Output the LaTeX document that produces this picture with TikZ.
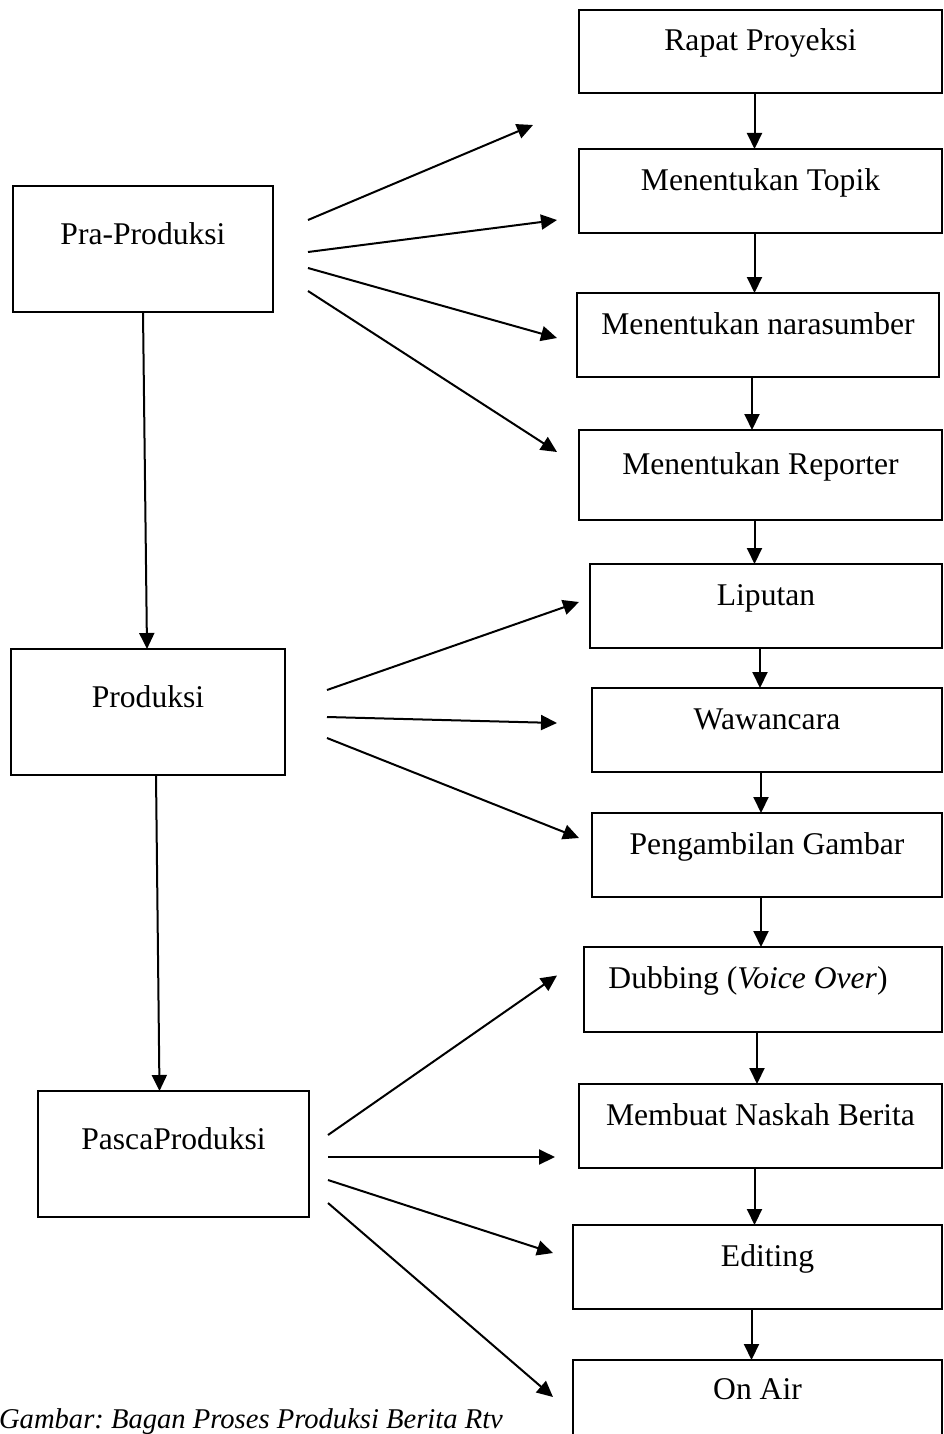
\documentclass[tikz,border=0pt]{standalone}
\usepackage{fontspec}
\setmainfont{Liberation Serif}
\usetikzlibrary{arrows.meta,calc}

\begin{document}
\frenchspacing
\begin{tikzpicture}[x=0.5pt,y=-0.5pt,
  box/.style={draw,line width=1pt,inner sep=0pt,outer sep=0pt,
    font=\fontsize{15.8pt}{19pt}\selectfont,text height=10.5pt},
  rbox/.style={box,text depth=11.5pt},
  lbox/.style={box,text depth=15pt,minimum height=63pt},
  arr/.style={line width=1pt,-{Triangle[length=8pt,width=7.5pt]}}]
\clip (0,0) rectangle (943,1434);

% tahapan
\node[lbox,minimum width=130pt] (pra) at (143,249) {Pra-Produksi};
\node[lbox,minimum width=137pt] (prod) at (148,712) {Produksi};
\node[lbox,minimum width=135.5pt] (pasca) at (173.5,1154) {PascaProduksi};

% kegiatan
\node[rbox,minimum width=181.5pt,minimum height=41.5pt] (rapat) at (760.5,51.5) {Rapat Proyeksi};
\node[rbox,minimum width=181.5pt,minimum height=42pt] (topik) at (760.5,191) {Menentukan Topik};
\node[rbox,minimum width=181pt,minimum height=42pt] (nara) at (758,335) {Menentukan narasumber};
\node[rbox,minimum width=181.5pt,minimum height=45pt] (reporter) at (760.5,475) {Menentukan Reporter};
\node[rbox,minimum width=176pt,minimum height=42pt] (liputan) at (766,606) {Liputan};
\node[rbox,minimum width=175pt,minimum height=42pt] (wawancara) at (767,730) {Wawancara};
\node[rbox,minimum width=175pt,minimum height=42pt] (gambar) at (767,855) {Pengambilan Gambar};
\node[rbox,minimum width=179pt,minimum height=42.5pt] (dubbing) at (763,989.5) {\kern-15pt Dubbing (\textit{Voice Over})};
\node[rbox,minimum width=181.5pt,minimum height=42pt] (naskah) at (760.5,1126) {Membuat Naskah Berita};
\node[rbox,minimum width=184.5pt,minimum height=42pt] (editing) at (757.5,1267) {\kern10pt Editing};
\node[rbox,minimum width=184.5pt,minimum height=40pt] (onair) at (757.5,1400) {On Air};

\node[anchor=base west,font=\fontsize{14.3pt}{17pt}\selectfont\itshape] (judul) at (-8,1428) {Gambar: Bagan Proses Produksi Berita Rtv};

% alur kanan
\foreach \a/\b in {rapat/topik,topik/nara,nara/reporter,reporter/liputan,liputan/wawancara,wawancara/gambar,gambar/dubbing,dubbing/naskah,naskah/editing,editing/onair}
  \draw[arr] ([xshift=-3pt]\a.south) -- ([xshift=-3pt]\a.south |- \b.north);

% alur kiri
\draw[arr] (pra.south) -- ([xshift=-0.5pt]prod.north);
\draw[arr] ([xshift=4pt]prod.south) -- ([xshift=-7pt]pasca.north);

% pra-produksi
\coordinate (ujung) at ($(topik.west)+(-46,-66)$);
\draw[arr] ($(pra.north east)+(35,34)$) -- (ujung);
\draw[arr] ($(pra.north east)+(35,66)$) -- ($(topik.west)+(-22,29)$);
\draw[arr] ($(pra.north east)+(35,82)$) -- ($(nara.west)+(-20,3)$);
\draw[arr] ($(pra.north east)+(35,105)$) -- ($(reporter.west)+(-22,-23)$);

% produksi
\draw[arr] ($(prod.north east)+(42,41)$) -- ($(liputan.west)+(-11,-4)$);
\draw[arr] ($(prod.north east)+(42,68)$) -- ($(wawancara.west)+(-35,-7)$);
\draw[arr] ($(prod.north east)+(42,89)$) -- ($(gambar.west)+(-13,-17)$);

% pasca produksi
\draw[arr] ($(pasca.north east)+(19,44)$) -- ($(dubbing.west)+(-27,-14)$);
\draw[arr] ($(pasca.north east)+(19,66)$) -- ($(naskah.west)+(-24,31)$);
\draw[arr] ($(pasca.north east)+(19,89)$) -- ($(editing.west)+(-20,-14)$);
\draw[arr] ($(pasca.north east)+(19,112)$) -- ($(onair.west)+(-20,-3)$);
\end{tikzpicture}
\end{document}
